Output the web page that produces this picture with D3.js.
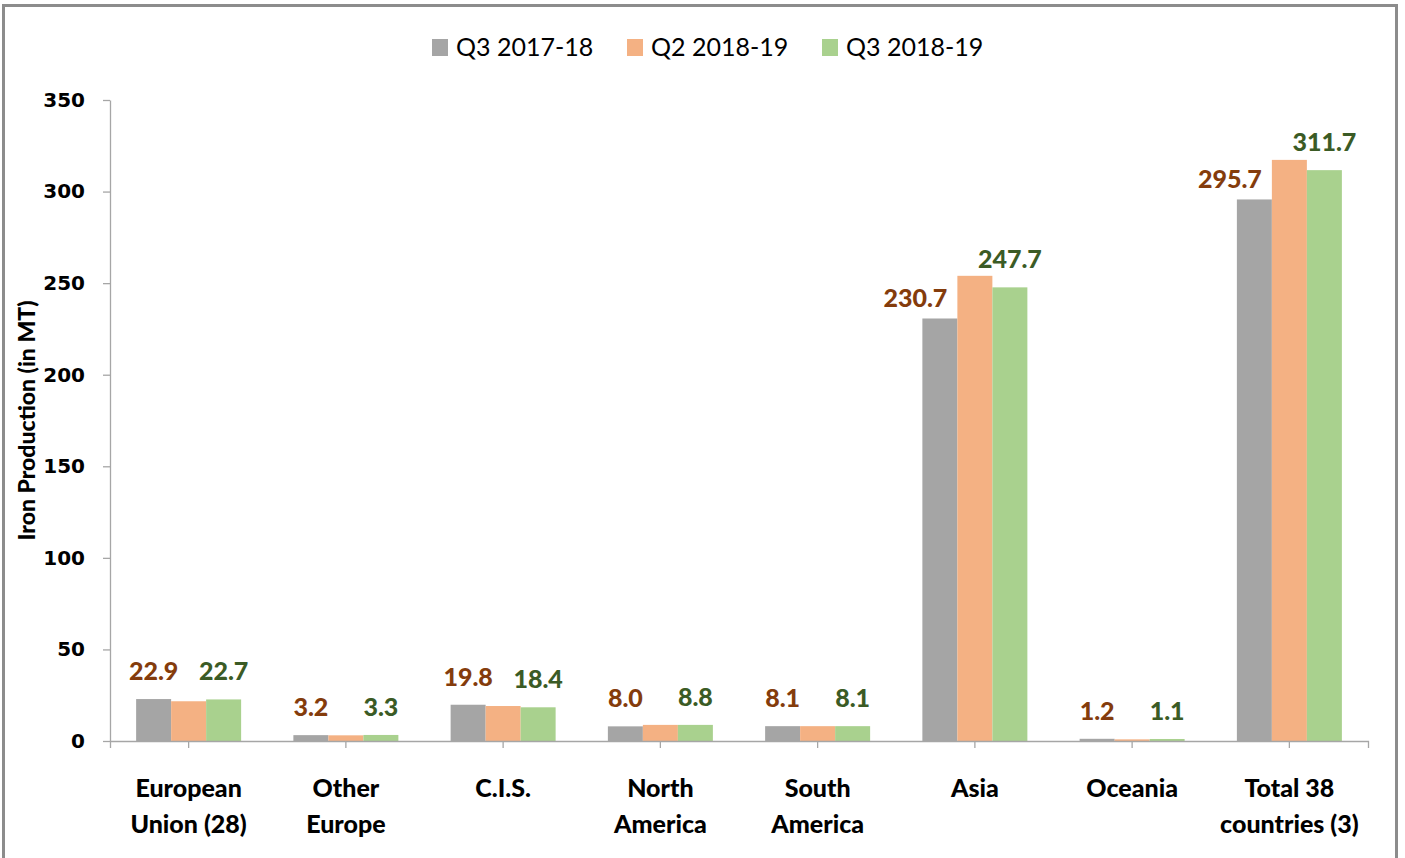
<!DOCTYPE html>
<html>
<head>
<meta charset="utf-8">
<script src="https://cdn.jsdelivr.net/npm/d3@7"></script>
<style>
  body { margin: 0; background: #fff; }
  svg { display: block; }
</style>
</head>
<body>
<div id="chart"></div>
<script>
// Data
const categories = ["European Union (28)", "Other Europe", "C.I.S.", "North America",
  "South America", "Asia", "Oceania", "Total 38 countries (3)"];
const categoryLines = [["European", "Union (28)"], ["Other", "Europe"], ["C.I.S."],
  ["North", "America"], ["South", "America"], ["Asia"], ["Oceania"], ["Total 38", "countries (3)"]];
const seriesNames = ["Q3 2017-18", "Q2 2018-19", "Q3 2018-19"];
const q3_2017 = [22.9, 3.2, 19.8, 8.0, 8.1, 230.7, 1.2, 295.7];
const q2_2018 = [21.7, 3.1, 19.1, 8.8, 8.1, 254.0, 0.9, 317.3];
const q3_2018 = [22.7, 3.3, 18.4, 8.8, 8.1, 247.7, 1.1, 311.7];
const yTicks = [0, 50, 100, 150, 200, 250, 300, 350];

const width = 1405;
const height = 858;
const margin = { top: 100, right: 37, bottom: 117, left: 110 };

const colors = ["#a5a5a5", "#f4b183", "#a9d18e"];
const labelColors = ["#843c0c", null, "#3b5b25"];
const seriesValues = [q3_2017, q2_2018, q3_2018];

const svg = d3.select("#chart").append("svg")
  .attr("width", width)
  .attr("height", height);

// outer frame
svg.append("rect")
  .attr("x", 3.5).attr("y", 5.5)
  .attr("width", 1393).attr("height", 1000)
  .attr("fill", "none")
  .attr("stroke", "#8c8c8c")
  .attr("stroke-width", 3);

const x0 = d3.scaleBand()
  .domain(categories)
  .range([margin.left, width - margin.right])
  .padding(0);

const groupW = 105;
const x1 = d3.scaleBand()
  .domain(seriesNames)
  .range([(x0.bandwidth() - groupW) / 2, (x0.bandwidth() + groupW) / 2]);

const y = d3.scaleLinear()
  .domain([0, 350])
  .range([height - margin.bottom, margin.top]);

// y axis
const yAxis = svg.append("g")
  .attr("transform", `translate(${margin.left},0)`)
  .call(d3.axisLeft(y).tickValues(yTicks).tickSize(7).tickSizeOuter(0).tickPadding(18));
yAxis.select(".domain").attr("stroke", "#a6a6a6").attr("stroke-width", 1.3);
yAxis.selectAll(".tick line").attr("stroke", "#a6a6a6").attr("stroke-width", 1.3);
yAxis.selectAll(".tick text")
  .attr("fill", "#000")
  .style("font", "bold 20px 'DejaVu Sans'");

// bars
const groups = svg.append("g").selectAll("g")
  .data(categories)
  .join("g")
  .attr("transform", d => `translate(${x0(d)},0)`);

groups.selectAll("rect")
  .data((d, i) => seriesNames.map((s, j) => ({ s, j, v: seriesValues[j][i] })))
  .join("rect")
  .attr("x", d => x1(d.s))
  .attr("y", d => y(d.v))
  .attr("width", x1.bandwidth())
  .attr("height", d => y(0) - y(d.v))
  .attr("fill", d => colors[d.j]);

// x axis
const xAxis = svg.append("g")
  .attr("transform", `translate(0,${y(0)})`)
  .call(d3.axisBottom(x0).tickSize(7).tickSizeOuter(7).tickFormat(""));
xAxis.select(".domain").attr("stroke", "#a6a6a6").attr("stroke-width", 1.3);
xAxis.selectAll(".tick line").attr("stroke", "#a6a6a6").attr("stroke-width", 1.3);

// category labels
svg.append("g").selectAll("text")
  .data(categories)
  .join("text")
  .attr("text-anchor", "middle")
  .style("font", "900 25px Lato")
  .attr("fill", "#000")
  .each(function (d, i) {
    const t = d3.select(this);
    categoryLines[i].forEach((line, k) => {
      t.append("tspan")
        .attr("x", x0(d) + x0.bandwidth() / 2)
        .attr("y", 797 + k * 36)
        .text(line);
    });
  });

// data labels (first and third series)
const labelGap = 19;
[0, 2].forEach(j => {
  svg.append("g").selectAll("text")
    .data(categories)
    .join("text")
    .attr("fill", labelColors[j])
    .style("font", "900 25px Lato")
    .attr("text-anchor", "middle")
    .attr("x", d => x0(d) + x1(seriesNames[j]) + x1.bandwidth() / 2)
    .attr("y", (d, i) => y(seriesValues[j][i]) - labelGap)
    .text((d, i) => seriesValues[j][i].toFixed(1))
    .each(function (d, i) {
      if (j !== 0) return;
      // move the label left when the next (taller) bar would cover it
      const w = this.getComputedTextLength();
      const cx = x0(d) + x1(seriesNames[0]) + x1.bandwidth() / 2;
      const nextX = x0(d) + x1(seriesNames[1]);
      const base = y(seriesValues[0][i]) - labelGap;
      if (y(q2_2018[i]) < base && cx + w / 2 > nextX - 10) {
        d3.select(this)
          .attr("text-anchor", "end")
          .attr("x", nextX - 10)
          .attr("y", base + 8);
      }
    });
});

// y axis title
svg.append("text")
  .attr("transform", `translate(35,${(margin.top + y(0)) / 2}) rotate(-90)`)
  .attr("text-anchor", "middle")
  .style("font", "900 23px Lato")
  .attr("fill", "#000")
  .text("Iron Production (in MT)");

// legend
const legendX = [432, 627, 822];
const legend = svg.append("g").selectAll("g")
  .data(seriesNames)
  .join("g")
  .attr("transform", (d, i) => `translate(${legendX[i]},39)`);
legend.append("rect")
  .attr("width", 16).attr("height", 17)
  .attr("fill", (d, i) => colors[i]);
legend.append("text")
  .attr("x", 24).attr("y", 17)
  .style("font", "25px Lato")
  .attr("fill", "#000")
  .text(d => d);
</script>
</body>
</html>
